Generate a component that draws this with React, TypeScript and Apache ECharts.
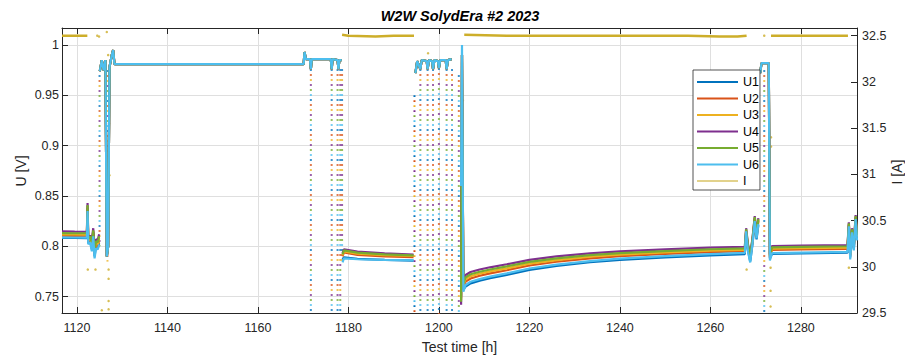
import React, { useEffect, useRef } from "react";
import * as echarts from "echarts";

const FONT = "'Liberation Sans', Arial, Helvetica, sans-serif";
const AXIS = "#262626";
const GRID = "#dfdfdf";

const seriesNames = ["U1", "U2", "U3", "U4", "U5", "U6"];
const seriesColors = ["#0072BD", "#D95319", "#EDB120", "#7E2F8E", "#77AC30", "#4DBEEE"];
const currentName = "I";
const currentColor = "#CDAE2A";
const currentLegendColor = "#E2D28C";

const xTicks = [1120, 1140, 1160, 1180, 1200, 1220, 1240, 1260, 1280];
const uTicks = [0.75, 0.8, 0.85, 0.9, 0.95, 1];
const iTicks = [29.5, 30, 30.5, 31, 31.5, 32, 32.5];

// ---- voltage: load period 1 (rows U1..U6)
const tLoad1 = [1116.7, 1119.5, 1122.2, 1122.35, 1122.5, 1122.9, 1123.3, 1123.6, 1123.9, 1124.2, 1124.6, 1124.9];
const uLoad1 = [
  [0.8085, 0.8083, 0.8082, 0.836, 0.803, 0.806, 0.797, 0.812, 0.79, 0.8, 0.798, 0.803],
  [0.8105, 0.8103, 0.8102, 0.838, 0.805, 0.808, 0.8, 0.814, 0.793, 0.802, 0.8, 0.806],
  [0.812, 0.8118, 0.8117, 0.84, 0.806, 0.809, 0.802, 0.815, 0.795, 0.804, 0.802, 0.808],
  [0.8148, 0.8146, 0.8145, 0.843, 0.808, 0.811, 0.806, 0.818, 0.799, 0.807, 0.806, 0.812],
  [0.8132, 0.813, 0.813, 0.841, 0.807, 0.81, 0.804, 0.816, 0.797, 0.805, 0.804, 0.81],
  [0.809, 0.8088, 0.8087, 0.835, 0.802, 0.804, 0.795, 0.81, 0.788, 0.798, 0.797, 0.802],
];

// ---- open circuit 1 (all cells overlap)
const tOcv1 = [1125.05, 1125.5, 1125.9, 1126.3, 1126.6, 1126.9, 1127.2, 1127.7, 1128.0, 1128.3, 1140, 1155, 1170.1,
  1170.3, 1170.6, 1171.5, 1171.7, 1171.9, 1176.1, 1176.3, 1176.5, 1177.6, 1177.8, 1178.0, 1178.5];
const ocv1 = [0.974, 0.985, 0.975, 0.985, 0.79, 0.8, 0.978, 0.99, 0.995, 0.981, 0.981, 0.981, 0.981,
  0.993, 0.986, 0.986, 0.976, 0.986, 0.986, 0.976, 0.986, 0.985, 0.976, 0.985, 0.985];

// ---- load period 2
const tLoad2 = [1178.7, 1179.0, 1182, 1188, 1194.4];
const uLoad2 = [
  [0.787, 0.789, 0.7875, 0.7865, 0.7858],
  [0.79, 0.794, 0.7915, 0.79, 0.7893],
  [0.791, 0.795, 0.7928, 0.7912, 0.7905],
  [0.793, 0.797, 0.7948, 0.793, 0.7918],
  [0.792, 0.796, 0.7938, 0.792, 0.791],
  [0.784, 0.788, 0.7872, 0.7866, 0.7862],
];

// ---- open circuit 2
const tOcv2 = [1194.8, 1195.2, 1195.9, 1196.2, 1197.3, 1197.5, 1197.8, 1198.5, 1198.7, 1199.0, 1199.8, 1200.0, 1200.3, 1201.5, 1201.7, 1202.0, 1202.8];
const ocv2 = [0.972, 0.984, 0.976, 0.985, 0.984, 0.976, 0.985, 0.984, 0.976, 0.985, 0.984, 0.977, 0.985, 0.985, 0.976, 0.985, 0.986];

// ---- load period 3
const tLoad3 = [1204.9, 1205.1, 1205.4, 1205.9, 1207, 1209, 1211.3, 1215, 1220, 1226, 1233.4, 1240, 1250, 1260, 1267.6,
  1267.9, 1268.3, 1268.8, 1269.3, 1269.8, 1270.2, 1270.6];
const uLoad3 = [
  [0.751, 0.99, 0.757, 0.76, 0.7632, 0.766, 0.7684, 0.7717, 0.7766, 0.7806, 0.7842, 0.7866, 0.7891, 0.7911, 0.7922, 0.812, 0.796, 0.785, 0.802, 0.823, 0.807, 0.821],
  [0.749, 0.99, 0.76, 0.765, 0.7681, 0.7708, 0.7731, 0.7763, 0.781, 0.7847, 0.7881, 0.7903, 0.7925, 0.7943, 0.7952, 0.815, 0.799, 0.789, 0.805, 0.827, 0.81, 0.825],
  [0.747, 0.99, 0.762, 0.7672, 0.7703, 0.7729, 0.7751, 0.7782, 0.7828, 0.7864, 0.7897, 0.7918, 0.7939, 0.7957, 0.7966, 0.816, 0.8, 0.79, 0.806, 0.828, 0.811, 0.826],
  [0.742, 0.99, 0.765, 0.7715, 0.7745, 0.777, 0.7792, 0.7822, 0.7866, 0.79, 0.7931, 0.795, 0.797, 0.7987, 0.7996, 0.818, 0.802, 0.792, 0.808, 0.83, 0.813, 0.828],
  [0.745, 0.99, 0.763, 0.7692, 0.7723, 0.7748, 0.777, 0.7801, 0.7846, 0.7881, 0.7913, 0.7933, 0.7953, 0.7971, 0.798, 0.817, 0.801, 0.791, 0.807, 0.829, 0.812, 0.827],
  [0.86, 1.0, 0.755, 0.7616, 0.7648, 0.7675, 0.7699, 0.7732, 0.778, 0.7819, 0.7854, 0.7878, 0.7902, 0.7922, 0.7935, 0.815, 0.795, 0.784, 0.803, 0.825, 0.808, 0.822],
];

// ---- open circuit 3
const tOcv3 = [1271.0, 1271.3, 1272.9];
const ocv3 = [0.972, 0.982, 0.982];

// ---- load period 4
const tLoad4 = [1273.15, 1273.6, 1280, 1290.3, 1290.6, 1290.9, 1291.3, 1291.7, 1292.1, 1292.4];
const uLoad4 = [
  [0.788, 0.7924, 0.7929, 0.7937, 0.819, 0.789, 0.813, 0.797, 0.826, 0.807],
  [0.789, 0.7964, 0.7969, 0.7975, 0.821, 0.791, 0.815, 0.799, 0.828, 0.809],
  [0.79, 0.7977, 0.7982, 0.7988, 0.822, 0.792, 0.816, 0.8, 0.829, 0.81],
  [0.792, 0.8003, 0.8007, 0.8013, 0.824, 0.795, 0.818, 0.802, 0.831, 0.812],
  [0.791, 0.799, 0.7995, 0.8001, 0.823, 0.794, 0.817, 0.801, 0.83, 0.811],
  [0.786, 0.7932, 0.7937, 0.7945, 0.82, 0.787, 0.814, 0.796, 0.827, 0.806],
];

// ---- fast transients (sparse samples between levels)
const streakT = [1125.0, 1126.75, 1171.7, 1176.3, 1177.6, 1178.2, 1178.6, 1194.6, 1195.9, 1197.5, 1198.7, 1200.0, 1201.7, 1202.9, 1204.4, 1271.9];
const streakTop = [0.97, 0.975, 0.976, 0.976, 0.976, 0.976, 0.976, 0.95, 0.976, 0.976, 0.976, 0.977, 0.976, 0.976, 0.97, 0.975];
const streakBottom = [0.8, 0.785, 0.72, 0.72, 0.72, 0.72, 0.785, 0.72, 0.72, 0.72, 0.72, 0.72, 0.72, 0.72, 0.72, 0.72];

// ---- current
const tI1 = [1116.7, 1119.0, 1122.3];
const i1 = [32.5, 32.5, 32.5];
const tI2 = [1178.6, 1180, 1186, 1190, 1194.5];
const i2 = [32.51, 32.5, 32.49, 32.5, 32.5];
const tI3 = [1205.6, 1215, 1230, 1245, 1255, 1262, 1266, 1268.0];
const i3 = [32.51, 32.5, 32.5, 32.5, 32.5, 32.49, 32.49, 32.5];
const tI4 = [1273.4, 1280, 1290.4];
const i4 = [32.5, 32.5, 32.5];
const iDotT = [1124.5, 1124.9, 1126.6, 1122.4, 1124.1, 1125.5, 1127.0, 1127.0, 1127.0, 1127.0, 1126.9, 1127.1, 1127.2,
  1197.6, 1204.9, 1205.0, 1205.2, 1205.3, 1268.0, 1271.9, 1273.3, 1273.3, 1273.3, 1273.4, 1273.4, 1290.6];
const iDotV = [32.5, 32.49, 32.54, 29.97, 29.97, 29.53, 29.97, 29.87, 29.63, 29.54, 32.29, 31.55, 30.99,
  32.31, 30.2, 31.0, 30.6, 31.8, 29.97, 32.5, 29.99, 29.74, 29.57, 31.4, 31.3, 29.99];

type P = [number, number | null];
const pairs = (t: number[], v: number[]): P[] => t.map((x, i) => [x, v[i]] as P);
const gapAfter = (t: number[]): P => [t[t.length - 1], null];

function voltageData(k: number): P[] {
  return [
    ...pairs(tLoad1, uLoad1[k]), gapAfter(tLoad1),
    ...pairs(tOcv1, ocv1), gapAfter(tOcv1),
    ...pairs(tLoad2, uLoad2[k]), gapAfter(tLoad2),
    ...pairs(tOcv2, ocv2), gapAfter(tOcv2),
    ...pairs(tLoad3, uLoad3[k]), gapAfter(tLoad3),
    ...pairs(tOcv3, ocv3), ...pairs(tLoad4, uLoad4[k]),
  ];
}

function streakData(): P[] {
  const d: P[] = [];
  streakT.forEach((t, i) => {
    d.push([t, streakTop[i]], [t, streakBottom[i]], [t, null]);
  });
  return d;
}

function currentData(): P[] {
  return [
    ...pairs(tI1, i1), gapAfter(tI1),
    ...pairs(tI2, i2), gapAfter(tI2),
    ...pairs(tI3, i3), gapAfter(tI3),
    ...pairs(tI4, i4),
  ];
}

const plain = (v: number) => String(v);

export default function App() {
  const ref = useRef<HTMLDivElement>(null);

  useEffect(() => {
    if (!ref.current) return;
    const chart = echarts.init(ref.current, null, { renderer: "svg" });

    const series: any[] = [];
    seriesNames.forEach((name, k) => {
      series.push({
        name: name + " transient",
        type: "line",
        data: streakData(),
        color: seriesColors[k],
        showSymbol: false,
        silent: true,
        connectNulls: false,
        lineStyle: { width: 2, type: [1.6, 28.4], dashOffset: -k * 5, cap: "butt" },
      });
    });
    seriesNames.forEach((name, k) => {
      series.push({
        name,
        type: "line",
        data: voltageData(k),
        color: seriesColors[k],
        showSymbol: false,
        silent: true,
        connectNulls: false,
        lineStyle: { width: 2.2 },
      });
    });
    series.push({
      name: currentName,
      type: "line",
      yAxisIndex: 1,
      data: currentData(),
      color: currentColor,
      showSymbol: false,
      silent: true,
      connectNulls: false,
      lineStyle: { width: 2.5 },
    });
    series.push({
      name: currentName + " samples",
      type: "scatter",
      yAxisIndex: 1,
      data: pairs(iDotT, iDotV),
      color: currentColor,
      symbolSize: 2.5,
      silent: true,
    });

    const nameStyle = { fontFamily: FONT, fontSize: 14, fill: AXIS, textAlign: "center", textVerticalAlign: "middle" };

    chart.setOption({
      animation: false,
      backgroundColor: "#ffffff",
      textStyle: { fontFamily: FONT },
      grid: { left: 62, right: 48, top: 28, bottom: 43, containLabel: false, outerBoundsMode: "none" },
      graphic: [
        {
          type: "text",
          x: 460,
          y: 15.5,
          style: {
            text: "W2W SolydEra #2 2023",
            fontFamily: FONT,
            fontSize: 14.5,
            fontWeight: "bold",
            fontStyle: "italic",
            fill: "#000",
            textAlign: "center",
            textVerticalAlign: "middle",
          },
        },
        { type: "text", x: 20.5, y: 171, rotation: Math.PI / 2, style: { ...nameStyle, text: "U [V]" } },
        { type: "text", x: 896.5, y: 172, rotation: Math.PI / 2, style: { ...nameStyle, text: "I [A]" } },
        { type: "text", x: 459.5, y: 347, style: { ...nameStyle, text: "Test time [h]" } },
      ],
      legend: {
        orient: "vertical",
        left: 693,
        top: 70,
        padding: [5, 1, 2, 4],
        icon: "rect",
        itemWidth: 41,
        itemHeight: 2.2,
        itemGap: 2.5,
        backgroundColor: "#ffffff",
        borderColor: AXIS,
        borderWidth: 0.8,
        borderRadius: 0,
        textStyle: { fontFamily: FONT, fontSize: 12.5, lineHeight: 14, color: "#000" },
        data: [
          ...seriesNames.map((n) => ({ name: n })),
          { name: currentName, itemStyle: { color: currentLegendColor } },
        ],
      },
      xAxis: [
        {
          type: "value",
          position: "bottom",
          min: 1116.7,
          max: 1292.4,
          axisLine: { show: true, onZero: false, lineStyle: { color: AXIS, width: 1 } },
          axisTick: { show: true, inside: true, length: 6, customValues: xTicks, lineStyle: { color: AXIS } },
          axisLabel: { customValues: xTicks, formatter: plain, fontFamily: FONT, fontSize: 12.5, color: AXIS, margin: 8 },
          splitLine: { show: true, lineStyle: { color: GRID, width: 1 } },
        },
        {
          type: "value",
          position: "top",
          min: 1116.7,
          max: 1292.4,
          axisLine: { show: true, onZero: false, lineStyle: { color: AXIS, width: 1 } },
          axisTick: { show: true, inside: true, length: 6, customValues: xTicks, lineStyle: { color: AXIS } },
          axisLabel: { show: false },
          splitLine: { show: false },
        },
      ],
      yAxis: [
        {
          type: "value",
          position: "left",
          min: 0.7338,
          max: 1.0169,
          axisLine: { show: true, onZero: false, lineStyle: { color: AXIS, width: 1 } },
          axisTick: { show: true, inside: true, length: 6, customValues: uTicks, lineStyle: { color: AXIS } },
          axisLabel: { customValues: uTicks, formatter: plain, fontFamily: FONT, fontSize: 12.5, color: AXIS, margin: 3 },
          splitLine: { show: true, lineStyle: { color: GRID, width: 1 } },
        },
        {
          type: "value",
          position: "right",
          min: 29.5,
          max: 32.583,
          axisLine: { show: true, onZero: false, lineStyle: { color: AXIS, width: 1 } },
          axisTick: { show: true, inside: true, length: 6, customValues: iTicks, lineStyle: { color: AXIS } },
          axisLabel: { customValues: iTicks, formatter: plain, fontFamily: FONT, fontSize: 12.5, color: AXIS, margin: 5 },
          splitLine: { show: false },
        },
      ],
      series,
    });

    return () => chart.dispose();
  }, []);

  return (
    <div
      ref={ref}
      style={{ position: "fixed", left: 0, top: 0, width: 905, height: 356, background: "#fff" }}
    />
  );
}
